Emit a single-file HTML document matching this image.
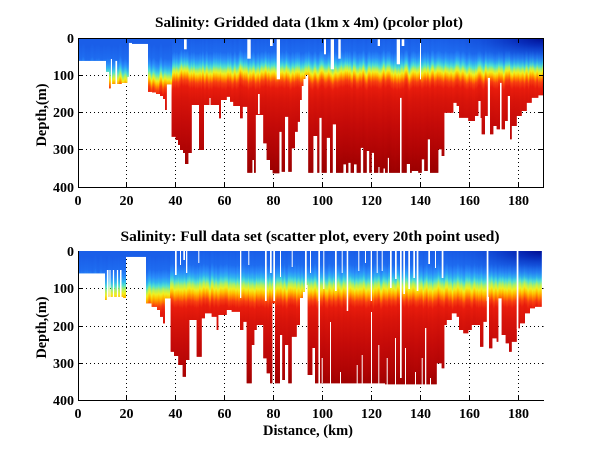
<!DOCTYPE html>
<html><head><meta charset="utf-8"><style>
html,body{margin:0;padding:0;background:#fff;}
svg{display:block;}
text{font-family:"Liberation Serif","Times New Roman",serif;font-weight:bold;fill:#000;}
</style></head><body>
<svg width="600" height="451" viewBox="0 0 600 451" xmlns="http://www.w3.org/2000/svg">
<defs>
<linearGradient id="gA" gradientUnits="userSpaceOnUse" x1="0" y1="38.3" x2="0" y2="187.7">
<stop offset="0" stop-color="#1a5ee8"/>
<stop offset="0.0917" stop-color="#1e6cf0"/>
<stop offset="0.1319" stop-color="#2a8cfa"/>
<stop offset="0.1586" stop-color="#30b4f0"/>
<stop offset="0.1854" stop-color="#50e0d0"/>
<stop offset="0.2088" stop-color="#b0f060"/>
<stop offset="0.2289" stop-color="#f0f020"/>
<stop offset="0.249" stop-color="#ffc000"/>
<stop offset="0.269" stop-color="#ff8000"/>
<stop offset="0.2925" stop-color="#f84010"/>
<stop offset="0.3327" stop-color="#e81c0c"/>
<stop offset="0.413" stop-color="#d8140a"/>
<stop offset="0.58" stop-color="#c40a08"/>
<stop offset="0.748" stop-color="#b00404"/>
<stop offset="0.915" stop-color="#980000"/>
<stop offset="1" stop-color="#900000"/>
</linearGradient>
<linearGradient id="gB" href="#gA" gradientTransform="translate(0,7)"/>
<linearGradient id="gC" gradientUnits="userSpaceOnUse" x1="0" y1="251" x2="0" y2="401">
<stop offset="0" stop-color="#1a5ee8"/>
<stop offset="0.0933" stop-color="#1e6cf0"/>
<stop offset="0.14" stop-color="#2a8cfa"/>
<stop offset="0.1733" stop-color="#30b4f0"/>
<stop offset="0.2" stop-color="#50e0d0"/>
<stop offset="0.2267" stop-color="#b0f060"/>
<stop offset="0.2533" stop-color="#f0f020"/>
<stop offset="0.28" stop-color="#ffc000"/>
<stop offset="0.3067" stop-color="#ff8000"/>
<stop offset="0.3333" stop-color="#f84010"/>
<stop offset="0.3733" stop-color="#e81c0c"/>
<stop offset="0.46" stop-color="#d8140a"/>
<stop offset="0.6267" stop-color="#c40a08"/>
<stop offset="0.7933" stop-color="#b00404"/>
<stop offset="0.9267" stop-color="#980000"/>
<stop offset="1" stop-color="#900000"/>
</linearGradient>
<linearGradient id="gD" href="#gC" gradientTransform="translate(0,5)"/>
<radialGradient id="corner" cx="1" cy="0" r="1">
<stop offset="0" stop-color="#000a8c" stop-opacity="0.95"/>
<stop offset="0.25" stop-color="#0018a8" stop-opacity="0.7"/>
<stop offset="0.6" stop-color="#0a38c8" stop-opacity="0.3"/>
<stop offset="1" stop-color="#1a5ee8" stop-opacity="0"/>
</radialGradient>
<filter id="wav" filterUnits="objectBoundingBox" x="0" y="0" width="1" height="1" color-interpolation-filters="sRGB">
<feTurbulence type="fractalNoise" baseFrequency="0.35 0.004" numOctaves="2" seed="7" result="n"/>
<feColorMatrix in="n" type="matrix" values="0 0 0 0 0.5  0 1 0 0 0  0 0 0 0 0  0 0 0 0 1" result="m"/>
<feDisplacementMap in="SourceGraphic" in2="m" scale="10" xChannelSelector="R" yChannelSelector="G"/>
</filter>
<clipPath id="leftTop"><rect x="70" y="30" width="102" height="170"/></clipPath>
<clipPath id="rightTop"><rect x="172" y="30" width="380" height="170"/></clipPath>
<clipPath id="leftBot"><rect x="70" y="245" width="100" height="170"/></clipPath>
<clipPath id="rightBot"><rect x="170" y="245" width="380" height="170"/></clipPath>
<path id="pTop" d="M78,38.3 V60.7 H106 V71.7 H109 V88.3 H110.7 V59 H112 V84 H115.3 V60.7 H117.3 V84 H121.7 V82.7 H127.3 V76.7 H128.7 V42.7 H132 V43.7 H148 V91.7 H152 V92.5 H156 V94 H160 V96 H163 V99 H165 V110 H166.7 V84.3 H171.7 V136.7 H175.7 V140 H178 V145 H180 V150 H183 V153 H185 V164 H188.3 V153 H191.7 V105 H199 V150 H204 V105 H209.3 V98 H210.7 V105 H219 V118.3 H221 V100 H226.7 V96.7 H230 V101.7 H233.3 V106 H240 V118.3 H242.7 V106.7 H247.3 V172.7 H252.3 V160 H254 V172.7 H255.7 V115 H263.3 V143.3 H266.7 V160 H270 V170 H272.7 V173.3 H279.3 V131.7 H281.7 V171.7 H285 V116.7 H288.3 V171.7 H291.7 V148.3 H295 V131.7 H297.7 V121.7 H300 V100 H301.7 V86 H303.5 V79 H305.5 V75 H308.3 V172.7 H313.3 V136 H317.3 V172.7 H319.3 V117.7 H321.7 V172.7 H326.7 V137.7 H330 V172.7 H332.7 V124.3 H336 V172.7 H343.3 V164.3 H346 V172.7 H348.3 V162.7 H350.7 V172.7 H354 V164.3 H356.7 V172.7 H360.7 V147.7 H363.3 V172.7 H366.7 V151 H369.3 V172.7 H371.7 V152.7 H374 V172.7 H378.3 V167 H379.5 V172.7 H383.5 V168.5 H385 V172.7 H387.7 V157.7 H389 V172.7 H400 V97.7 H401.7 V172.7 H406.7 V164 H410 V172.7 H411.7 V171 H418.3 V172.7 H421.7 V159.3 H424.3 V171 H427.7 V139.3 H430 V172.7 H438.3 V149.3 H441.7 V156 H444.3 V112.7 H453.3 V102.7 H456.7 V106 H459 V117.7 H468.3 V121 H475 V116 H478.3 V101 H480.7 V118 H481.7 V134.3 H485 V116 H487.7 V77.7 H490 V134.3 H493.3 V126 H496.7 V129.3 H500 V82.7 H501.7 V129.3 H505 V121 H507.7 V96 H510 V139.3 H511.7 V126 H516.7 V116 H521.7 V111 H526.7 V102.7 H531.7 V97.7 H538.3 V95.3 H543.5 V38.3 Z"/>
<path id="pBot" d="M78,251 V273.3 H105 V300 H106.7 V270 H108.5 V296.7 H109.3 V270 H110.7 V296.7 H112.7 V270 H114.3 V296.7 H116.7 V270 H118.3 V296.7 H120 V270 H121.7 V296.7 H123.3 V298 H126 V256.7 H146 V303.3 H151.7 V306.7 H157 V310 H160 V316.7 H163 V323.3 H165 V298.3 H170.7 V351.7 H174 V356 H178.3 V365 H182.7 V376.7 H186 V360 H189.3 V320 H196.7 V356.7 H201.7 V318.3 H205 V313.3 H211.7 V316.7 H216.7 V330 H218.3 V315 H226.7 V310 H231.7 V311.7 H240 V330 H243.3 V321.7 H246.7 V383.3 H251.7 V345 H254.3 V330 H256.7 V325 H263.3 V358.3 H266.7 V373.3 H270 V383.3 H272.3 V303.3 H275 V383.3 H280 V335 H282.3 V380 H285 V345 H288.3 V383.3 H291.7 V336.7 H296.7 V325 H300 V298 H303 V292 H305 V287 H306.5 V285 H307.7 V375 H312.3 V348 H315 V383.3 H318.3 V300 H320 V383.3 H385 V384.3 H436.7 V363.3 H441.7 V368.3 H444.3 V325 H446.7 V320 H451.7 V313.3 H456.7 V316.7 H459 V330 H463.3 V333.3 H468.3 V330 H471.7 V325 H480 V346.7 H483.3 V321.7 H486.7 V296.7 H489 V348.3 H492.3 V338.3 H496.7 V341.7 H498.3 V298.3 H501.7 V335 H505.7 V343.3 H509 V351.7 H511.7 V341.7 H516.7 V328.3 H520 V323.3 H525 V313.3 H530 V308.3 H535 V306.7 H541.7 V251 Z"/>
<clipPath id="cTop"><use href="#pTop"/></clipPath>
<clipPath id="cBot"><use href="#pBot"/></clipPath>
</defs>

<g stroke="#000" stroke-width="1" stroke-dasharray="1 3" fill="none">
<path d="M126.5,38 V187 M175.5,38 V187 M224.5,38 V187 M273.5,38 V187 M322.5,38 V187 M371.5,38 V187 M420.5,38 V187 M469.5,38 V187 M518.5,38 V187 M78,75.5 H543 M78,112.5 H543 M78,149.5 H543"/>
<path d="M126.5,251 V400 M175.5,251 V400 M224.5,251 V400 M273.5,251 V400 M322.5,251 V400 M371.5,251 V400 M420.5,251 V400 M469.5,251 V400 M518.5,251 V400 M78,288.5 H544 M78,326.5 H544 M78,363.5 H544"/>
</g>

<use href="#pTop" fill="url(#gA)"/>
<use href="#pTop" fill="url(#gB)" clip-path="url(#leftTop)"/>
<g clip-path="url(#rightTop)"><rect x="70" y="20" width="480" height="190" fill="url(#gA)" filter="url(#wav)" clip-path="url(#cTop)"/></g>
<g clip-path="url(#leftTop)"><rect x="70" y="20" width="480" height="190" fill="url(#gB)" filter="url(#wav)" clip-path="url(#cTop)"/></g>
<rect x="433" y="38.5" width="110.5" height="30" fill="url(#corner)"/>
<g fill="#fff">
<rect x="184" y="39.3" width="2.7" height="10"/>
<rect x="247.3" y="39.3" width="3.4" height="19.4"/>
<rect x="270" y="39.3" width="2.7" height="6.7"/>
<rect x="276.7" y="39.3" width="3.3" height="40"/>
<rect x="324" y="39.3" width="2" height="15"/>
<rect x="330.7" y="39.3" width="3.3" height="30"/>
<rect x="338.3" y="39.3" width="2.4" height="19.4"/>
<rect x="377.7" y="39.3" width="2.3" height="6.7"/>
<rect x="396.7" y="39.3" width="3.3" height="25"/>
<rect x="401.7" y="39.3" width="2.6" height="6.7"/>
<rect x="420" y="39.3" width="1" height="40"/>
<rect x="258" y="94" width="1.7" height="20"/>
</g>

<use href="#pBot" fill="url(#gC)"/>
<use href="#pBot" fill="url(#gD)" clip-path="url(#leftBot)"/>
<g clip-path="url(#rightBot)"><rect x="70" y="235" width="480" height="180" fill="url(#gC)" filter="url(#wav)" clip-path="url(#cBot)"/></g>
<g clip-path="url(#leftBot)"><rect x="70" y="235" width="480" height="180" fill="url(#gD)" filter="url(#wav)" clip-path="url(#cBot)"/></g>
<rect x="433" y="251" width="108.7" height="30" fill="url(#corner)"/>
<g fill="#fff">
<rect x="175" y="251" width="1.7" height="24"/>
<rect x="180" y="251" width="1" height="14"/>
<rect x="183.3" y="251" width="1.7" height="9"/>
<rect x="186" y="251" width="1.3" height="22"/>
<rect x="198.3" y="251" width="1" height="12"/>
<rect x="240" y="251" width="1.3" height="47"/>
<rect x="248.3" y="251" width="1" height="14"/>
<rect x="265" y="251" width="1.7" height="50"/>
<rect x="270" y="251" width="1.7" height="22"/>
<rect x="273.3" y="251" width="1.7" height="50"/>
<rect x="280" y="251" width="1" height="26"/>
<rect x="291.7" y="251" width="1" height="16"/>
<rect x="305" y="251" width="1.7" height="45"/>
<rect x="310" y="251" width="1" height="22"/>
<rect x="318.3" y="251" width="1.7" height="50"/>
<rect x="323.3" y="251" width="1" height="38"/>
<rect x="335" y="251" width="1.7" height="40"/>
<rect x="341.7" y="251" width="1" height="22"/>
<rect x="346.7" y="251" width="1.5" height="60"/>
<rect x="358.3" y="251" width="1" height="20"/>
<rect x="365" y="251" width="1" height="12"/>
<rect x="370.7" y="251" width="1.3" height="50"/>
<rect x="376.7" y="251" width="1" height="22"/>
<rect x="381.7" y="251" width="1" height="20"/>
<rect x="390" y="251" width="1.7" height="37"/>
<rect x="395" y="251" width="1.7" height="28"/>
<rect x="400" y="251" width="1.7" height="127"/>
<rect x="403.3" y="251" width="1.7" height="43"/>
<rect x="408.3" y="251" width="1.7" height="38"/>
<rect x="413.3" y="251" width="1.7" height="27"/>
<rect x="416.7" y="251" width="1.7" height="40"/>
<rect x="428.3" y="251" width="1.7" height="13"/>
<rect x="435" y="251" width="1" height="17"/>
<rect x="441.7" y="251" width="1.7" height="27"/>
<rect x="486.7" y="251" width="1.7" height="50"/>
<rect x="516.7" y="251" width="1.7" height="78"/>
<rect x="386.7" y="358" width="1" height="27"/>
<rect x="395" y="338" width="1" height="47"/>
<rect x="405" y="348" width="1" height="37"/>
<rect x="415" y="372" width="1" height="13"/>
<rect x="421.7" y="358" width="1" height="27"/>
<rect x="425" y="328" width="1.3" height="57"/>
<rect x="430" y="378" width="1" height="7"/>
<rect x="321.7" y="358" width="1" height="26"/>
<rect x="330" y="322" width="1" height="62"/>
<rect x="340" y="372" width="1" height="12"/>
<rect x="356.7" y="365" width="1" height="19"/>
<rect x="361.7" y="355" width="1" height="29"/>
<rect x="371" y="312" width="1" height="72"/>
<rect x="378.3" y="345" width="1" height="39"/>
</g>

<g stroke="#000" stroke-width="1" fill="none">
<rect x="78.5" y="38.5" width="465" height="149"/>
<path d="M126.5,187 V183 M175.5,187 V183 M224.5,187 V183 M273.5,187 V183 M322.5,187 V183 M371.5,187 V183 M420.5,187 V183 M469.5,187 V183 M518.5,187 V183"/>
<path d="M126.5,39 V43 M175.5,39 V43 M224.5,39 V43 M273.5,39 V43 M322.5,39 V43 M371.5,39 V43 M420.5,39 V43 M469.5,39 V43 M518.5,39 V43"/>
<path d="M79,75.5 H83 M79,112.5 H83 M79,149.5 H83 M543,75.5 H539 M543,112.5 H539 M543,149.5 H539"/>
<path d="M78.5,251 V400.5 H544"/>
<path d="M126.5,400 V396 M175.5,400 V396 M224.5,400 V396 M273.5,400 V396 M322.5,400 V396 M371.5,400 V396 M420.5,400 V396 M469.5,400 V396 M518.5,400 V396"/>
<path d="M79,288.5 H83 M79,326.5 H83 M79,363.5 H83 M543.5,288.5 H542 M543.5,326.5 H542 M543.5,363.5 H542"/>
</g>

<text x="309" y="27" font-size="15" text-anchor="middle" textLength="308" lengthAdjust="spacingAndGlyphs">Salinity: Gridded data (1km x 4m) (pcolor plot)</text>
<text x="310" y="241" font-size="15" text-anchor="middle" textLength="379" lengthAdjust="spacingAndGlyphs">Salinity: Full data set (scatter plot, every 20th point used)</text>

<g font-size="14" text-anchor="end">
<text x="74" y="43">0</text>
<text x="74" y="80">100</text>
<text x="74" y="117">200</text>
<text x="74" y="154">300</text>
<text x="74" y="192">400</text>
<text x="74" y="256">0</text>
<text x="74" y="293">100</text>
<text x="74" y="331">200</text>
<text x="74" y="368">300</text>
<text x="74" y="405">400</text>
</g>
<g font-size="14" text-anchor="middle">
<text x="78" y="205">0</text><text x="126.5" y="205">20</text><text x="175.5" y="205">40</text><text x="224.5" y="205">60</text><text x="273.5" y="205">80</text><text x="322.5" y="205">100</text><text x="371.5" y="205">120</text><text x="420.5" y="205">140</text><text x="469.5" y="205">160</text><text x="518.5" y="205">180</text>
<text x="78" y="418">0</text><text x="126.5" y="418">20</text><text x="175.5" y="418">40</text><text x="224.5" y="418">60</text><text x="273.5" y="418">80</text><text x="322.5" y="418">100</text><text x="371.5" y="418">120</text><text x="420.5" y="418">140</text><text x="469.5" y="418">160</text><text x="518.5" y="418">180</text>
</g>

<text transform="translate(46,115) rotate(-90)" font-size="15" text-anchor="middle" textLength="63" lengthAdjust="spacingAndGlyphs">Depth,(m)</text>
<text transform="translate(46,327.5) rotate(-90)" font-size="15" text-anchor="middle" textLength="62" lengthAdjust="spacingAndGlyphs">Depth,(m)</text>
<text x="308" y="435" font-size="15" text-anchor="middle" textLength="90" lengthAdjust="spacingAndGlyphs">Distance, (km)</text>
</svg>
</body></html>
